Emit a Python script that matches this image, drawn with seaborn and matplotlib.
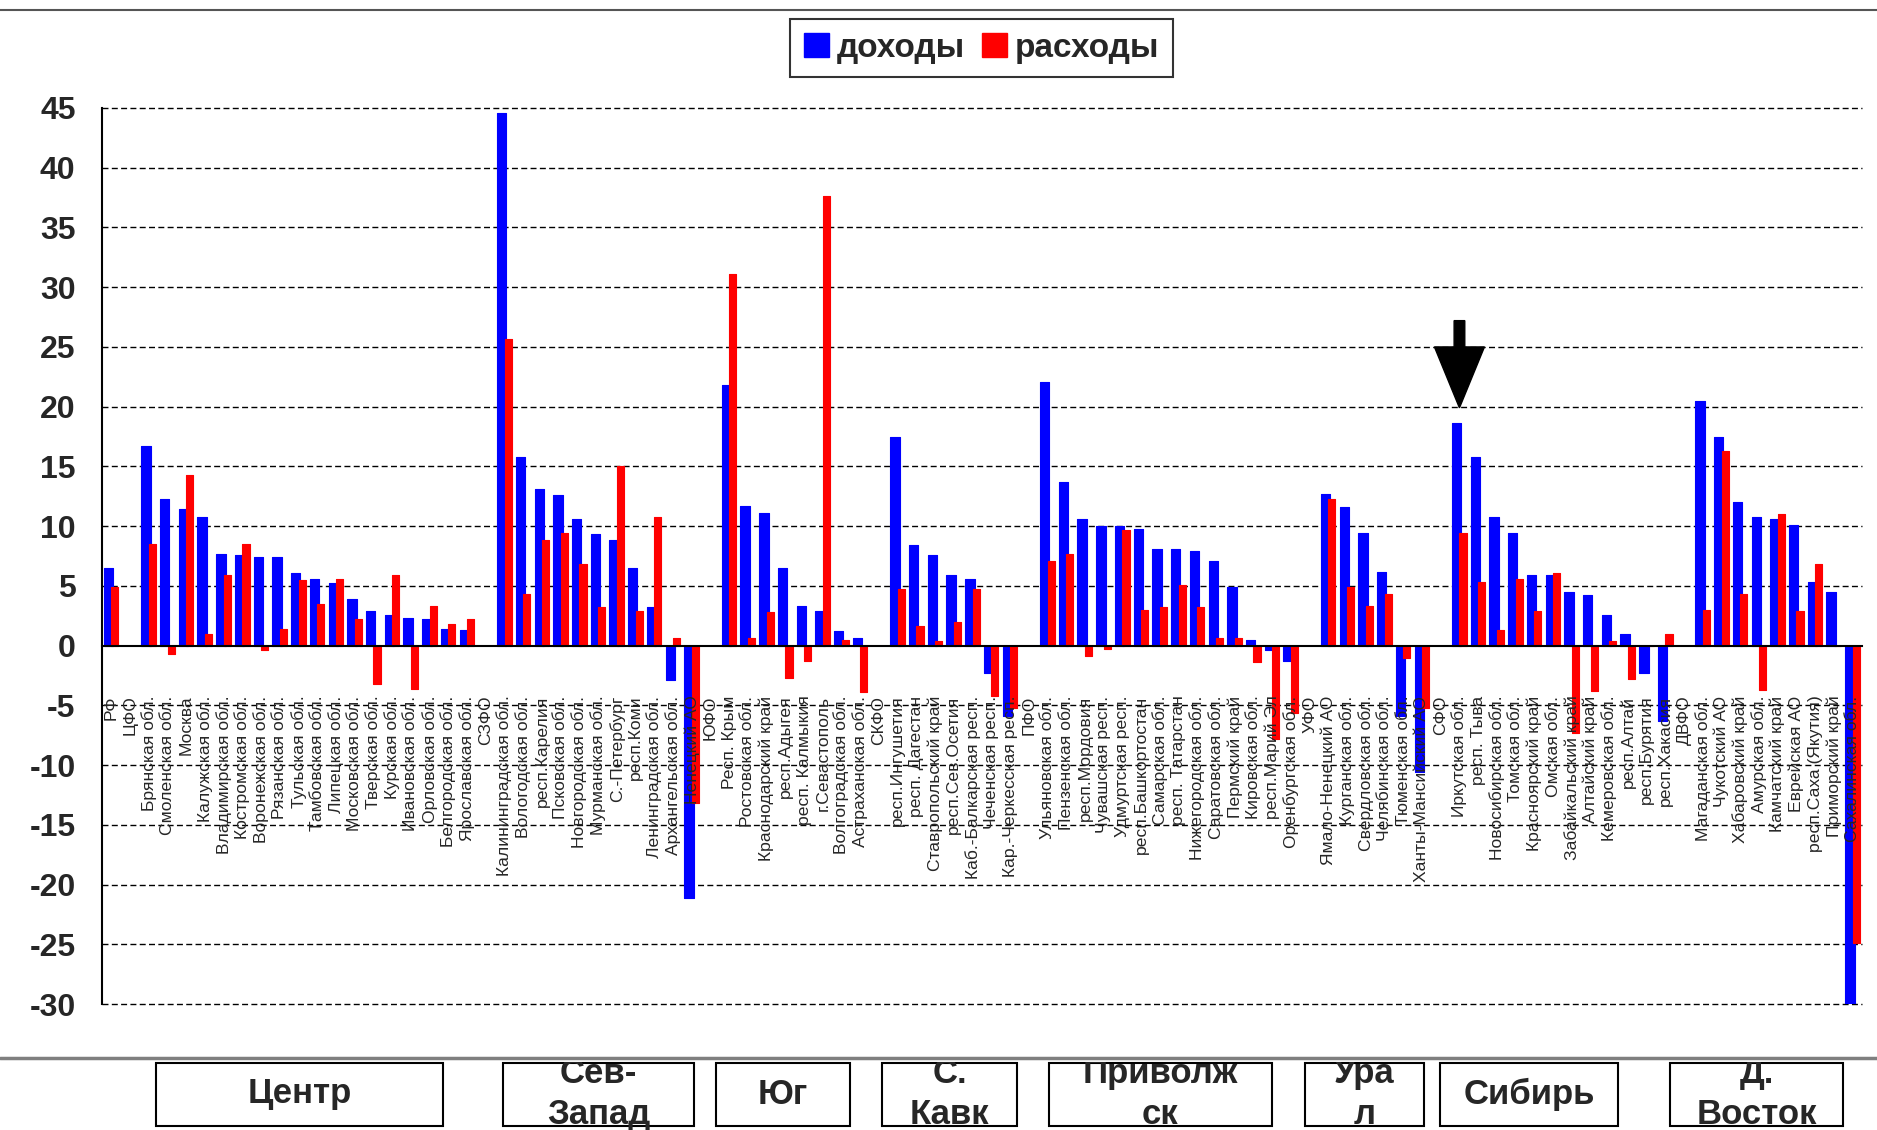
import numpy as np
import pandas as pd
import matplotlib
matplotlib.use("Agg")
import matplotlib.pyplot as plt
import seaborn as sns
from matplotlib.patches import Patch, Rectangle
from matplotlib.lines import Line2D

nan = np.nan

categories = [
    "РФ", "ЦФО", "Брянская обл.", "Смоленская обл.", "Москва", "Калужская обл.",
    "Владимирская обл.", "Костромская обл.", "Воронежская обл.", "Рязанская обл.",
    "Тульская обл.", "Тамбовская обл.", "Липецкая обл.", "Московская обл.",
    "Тверская обл.", "Курская обл.", "Ивановская обл.", "Орловская обл.",
    "Белгородская обл.", "Ярославская обл.", "СЗФО", "Калининградская обл.",
    "Вологодская обл.", "респ.Карелия", "Псковская обл.", "Новгородская обл.",
    "Мурманская обл.", "С.-Петербург", "респ.Коми", "Ленинградская обл.",
    "Архангельская обл.", "Ненецкий АО", "ЮФО", "Респ. Крым", "Ростовская обл.",
    "Краснодарский край", "респ.Адыгея", "респ. Калмыкия", "г.Севастополь",
    "Волгоградская обл.", "Астраханская обл.", "СКФО", "респ.Ингушетия",
    "респ. Дагестан", "Ставропольский край", "респ.Сев.Осетия",
    "Каб.-Балкарская респ.", "Чеченская респ.", "Кар.-Черкесская респ.", "ПФО",
    "Ульяновская обл.", "Пензенская обл.", "респ.Мордовия", "Чувашская респ.",
    "Удмуртская респ.", "респ.Башкортостан", "Самарская обл.", "респ. Татарстан",
    "Нижегородская обл.", "Саратовская обл.", "Пермский край", "Кировская обл.",
    "респ.Марий Эл", "Оренбургская обл.", "УФО", "Ямало-Ненецкий АО",
    "Курганская обл.", "Свердловская обл.", "Челябинская обл.", "Тюменская обл.",
    "Ханты-Мансийский АО", "СФО", "Иркутская обл.", "респ. Тыва",
    "Новосибирская обл.", "Томская обл.", "Красноярский край", "Омская обл.",
    "Забайкальский край", "Алтайский край", "Кемеровская обл.", "респ.Алтай",
    "респ.Бурятия", "респ.Хакасия", "ДВФО", "Магаданская обл.", "Чукотский АО",
    "Хабаровский край", "Амурская обл.", "Камчатский край", "Еврейская АО",
    "респ.Саха (Якутия)", "Приморский край", "Сахалинская обл.",
]

dohody = [
    6.5, nan, 16.7, 12.3, 11.4, 10.8, 7.7, 7.6, 7.4, 7.4,
    6.1, 5.6, 5.2, 3.9, 2.9, 2.6, 2.3, 2.2, 1.4, 1.3,
    nan, 44.6, 15.8, 13.1, 12.6, 10.6, 9.3, 8.8, 6.5, 3.2,
    -2.9, -21.1, nan, 21.8, 11.7, 11.1, 6.5, 3.3, 2.9, 1.25,
    0.65, nan, 17.5, 8.4, 7.6, 5.9, 5.6, -2.3, -5.9, nan,
    22.1, 13.7, 10.6, 10.0, 10.0, 9.8, 8.1, 8.1, 7.9, 7.1,
    4.9, 0.5, -0.4, -1.25, nan, 12.7, 11.6, 9.4, 6.2, -5.9,
    -10.6, nan, 18.6, 15.8, 10.8, 9.4, 5.9, 5.9, 4.5, 4.2,
    2.6, 0.95, -2.3, -6.3, nan, 20.5, 17.5, 12.0, 10.8, 10.6,
    10.1, 5.3, 4.5, -30.0,
]

rashody = [
    4.9, nan, 8.5, -0.7, 14.3, 1.0, 5.9, 8.5, -0.4, 1.4,
    5.5, 3.5, 5.6, 2.2, -3.2, 5.9, -3.6, 3.3, 1.8, 2.2,
    nan, 25.7, 4.3, 8.8, 9.4, 6.8, 3.2, 15.0, 2.9, 10.8,
    0.65, -13.2, nan, 31.1, 0.65, 2.8, -2.7, -1.25, 37.6, 0.5,
    -3.9, nan, 4.7, 1.6, 0.35, 2.0, 4.7, -4.2, -5.2, nan,
    7.1, 7.7, -0.85, -0.3, 9.7, 3.0, 3.2, 5.1, 3.2, 0.65,
    0.65, -1.4, -7.8, -5.6, nan, 12.3, 4.9, 3.3, 4.3, -1.0,
    -5.2, nan, 9.4, 5.3, 1.3, 5.6, 2.9, 6.1, -7.3, -3.8,
    0.35, -2.8, 0.0, 1.0, nan, 3.0, 16.3, 4.3, -3.7, 11.0,
    2.9, 6.8, 0.0, -24.9,
]

series_names = ["доходы", "расходы"]
series_colors = ["#0000FF", "#FF0000"]
y_ticks = list(range(-30, 50, 5))

group_names = ["Центр", "Сев-\nЗапад", "Юг", "С.\nКавк", "Приволж\nск", "Ура\nл", "Сибирь", "Д.\nВосток"]

df = pd.DataFrame({
    "region": categories * 2,
    "kind": [series_names[0]] * len(categories) + [series_names[1]] * len(categories),
    "value": dohody + rashody,
}).dropna()

sns.set_style("white")
plt.rcParams["font.family"] = ["Liberation Sans", "DejaVu Sans"]
plt.rcParams["axes.unicode_minus"] = False

W, H = 1877, 1130
fig = plt.figure(figsize=(W / 100, H / 100), dpi=100)
ax = fig.add_axes([102 / W, 1 - 1004 / H, (1862 - 102) / W, (1004 - 108) / H])

sns.barplot(data=df, x="region", y="value", hue="kind", order=categories,
            hue_order=series_names, palette=dict(zip(series_names, series_colors)),
            errorbar=None, width=0.8, dodge=True, saturation=1, legend=False, ax=ax)

# overlapping bar geometry like the original
geom = {series_names[0]: (-0.15, 0.50), series_names[1]: (0.19, 0.38)}
for cont, kind in zip(ax.containers, series_names):
    off, w = geom[kind]
    col = dict(zip(series_names, series_colors))[kind]
    for bar in cont:
        c = round(bar.get_x() + bar.get_width() / 2)
        bar.set_x(c + off - w / 2)
        bar.set_width(w)
        bar.set_edgecolor(col)
        bar.set_linewidth(0.8)
        bar.set_joinstyle("round")

ax.set_xlim(-0.5, len(categories) - 0.5)
ax.set_ylim(-30, 45)
ax.set_xlabel("")
ax.set_ylabel("")

for y in y_ticks:
    if y != 0:
        ax.axhline(y, color="black", lw=1.0, ls=(0, (4.3, 2.4)), zorder=0.5, clip_on=False)

ax.set_axisbelow(False)
for s in ["top", "right"]:
    ax.spines[s].set_visible(False)
ax.spines["bottom"].set_position(("data", 0))
ax.spines["bottom"].set_linewidth(1.5)
ax.spines["left"].set_linewidth(1.5)
ax.spines["bottom"].set_color("black")
ax.spines["left"].set_color("black")

ax.set_xticks(range(len(categories)))
ax.set_xticklabels(categories, rotation=90, fontsize=12.6, va="top", ha="center")
ax.set_xticks(np.arange(-0.5, len(categories), 1), minor=True)
ax.tick_params(axis="x", which="major", length=0, pad=36)
ax.tick_params(axis="x", which="minor", length=5, width=1.2, direction="out", color="black")

ax.set_yticks(y_ticks)
ax.set_yticklabels([str(v) for v in y_ticks])
ax.tick_params(axis="y", length=6, width=1.3, pad=13, labelsize=23, direction="out", color="black")
for lab in ax.get_yticklabels():
    lab.set_fontweight("bold")

# arrow over Иркутская обл.
xi = categories.index("Иркутская обл.")
ax.arrow(xi, 27.2, 0, -7.3, width=0.57, head_width=2.67, head_length=5.1,
         length_includes_head=True, fc="black", ec="black", zorder=5)

handles = [Patch(facecolor=c, edgecolor=c) for c in series_colors]
leg = fig.legend(handles, series_names, loc="center", bbox_to_anchor=(0.523, 1 - 48 / H),
                 ncol=2, frameon=True, fancybox=False, edgecolor="black",
                 prop={"weight": "bold", "size": 24}, handlelength=0.75, handleheight=0.75,
                 handletextpad=0.25, columnspacing=0.5, borderpad=0.4, borderaxespad=0)
leg.get_frame().set_linewidth(1.5)

# decorative lines
fig.add_artist(Line2D([0, 1], [1 - 10 / H, 1 - 10 / H], color="#555555", lw=1.5))
fig.add_artist(Line2D([0, 1], [1 - 1058 / H, 1 - 1058 / H], color="#7f7f7f", lw=2.5))

# bottom strip with federal district boxes
bax = fig.add_axes([0, 0, 1, (H - 1062) / H])
bax.set_xlim(0, W)
bax.set_ylim(H, 1062)
bax.axis("off")
spans = [(156, 443), (503, 694), (716, 850), (882, 1017), (1049, 1272), (1305, 1424), (1440, 1618), (1670, 1843)]
for name, (x0, x1) in zip(group_names, spans):
    bax.add_patch(Rectangle((x0, 1063), x1 - x0, 63, fill=False, edgecolor="black", lw=1.5, clip_on=False))
    bax.text((x0 + x1) / 2, 1094, name, ha="center", va="center", fontsize=25,
             fontweight="bold", linespacing=1.3, clip_on=True)

fig.savefig("out.png", dpi=100, facecolor="white")
